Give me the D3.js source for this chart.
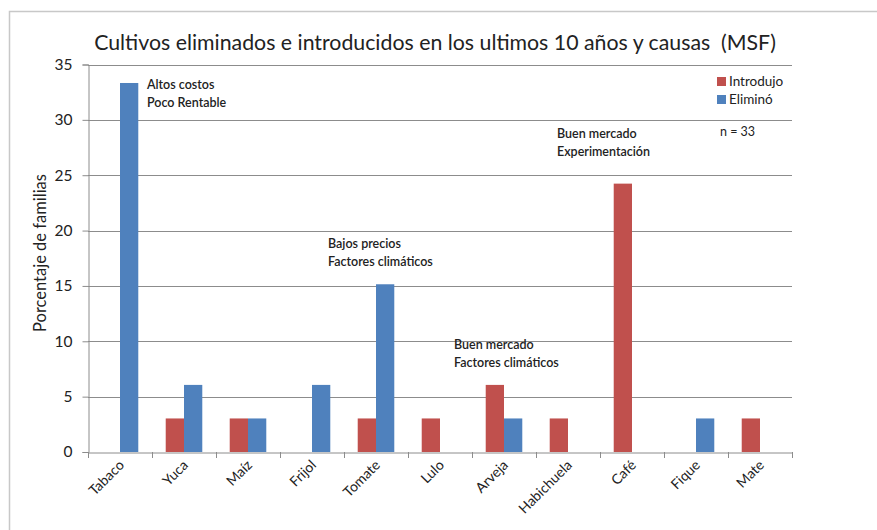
<!DOCTYPE html>
<html>
<head>
<meta charset="utf-8">
<script src="https://cdn.jsdelivr.net/npm/d3@7"></script>
<style>
  html, body { margin: 0; padding: 0; background: #fff; }
  svg { display: block; font-family: Lato, "Open Sans", sans-serif; }
  .pre { white-space: pre; }
</style>
</head>
<body>
<svg id="chart" width="877" height="530"></svg>
<script>
// Crops removed and introduced over the last 10 years (n = 33 families)
const categories = ["Tabaco", "Yuca", "Maíz", "Frijol", "Tomate", "Lulo", "Arveja", "Habichuela", "Café", "Fique", "Mate"];
const seriesNames = ["Introdujo", "Eliminó"];
const introdujo = [0, 3.03, 3.03, 0, 3.03, 3.03, 6.06, 3.03, 24.24, 0, 3.03];
const elimino   = [33.33, 6.06, 3.03, 6.06, 15.15, 0, 3.03, 0, 0, 3.03, 0];
const yTicks = [0, 5, 10, 15, 20, 25, 30, 35];
const colors = ["#C0504D", "#4F81BD"];
// reasons given, anchored to a category (dx in px from its centre) and a y value
const notes = [
  { cat: "Tabaco", dx: 27,  value: 32.8, lines: ["Altos costos", "Poco Rentable"] },
  { cat: "Tomate", dx: -48, value: 18.4, lines: ["Bajos precios", "Factores climáticos"] },
  { cat: "Arveja", dx: -50, value: 9.3,  lines: ["Buen mercado", "Factores climáticos"] },
  { cat: "Café",   dx: -75, value: 28.4, lines: ["Buen mercado", "Experimentación"] }
];

const svg = d3.select("#chart");
const plotL = 88, plotR = 792, plotT = 64.5, plotB = 452;

// outer frame
svg.append("rect").attr("x", 9.5).attr("y", 11.5).attr("width", 900).attr("height", 600)
  .attr("fill", "none").attr("stroke", "#c8c8c8").attr("stroke-width", 1.5);

const x = d3.scaleBand().domain(categories).range([plotL, plotR]).paddingInner(0).paddingOuter(0);
const y = d3.scaleLinear().domain([0, 35]).range([plotB, plotT]);
const barW = x.bandwidth() / 3.5;
const sub = d3.scaleBand().domain(seriesNames).range([x.bandwidth() / 2 - barW, x.bandwidth() / 2 + barW]);

// gridlines
svg.append("g").selectAll("line").data(yTicks.filter(d => d > 0)).join("line")
  .attr("x1", plotL).attr("x2", plotR)
  .attr("y1", d => Math.round(y(d)) + 0.5).attr("y2", d => Math.round(y(d)) + 0.5)
  .attr("stroke", "#8c8c8c").attr("stroke-width", 1);

// y axis
const yAxis = svg.append("g").attr("transform", `translate(${plotL + 0.5},0)`)
  .call(d3.axisLeft(y).tickValues(yTicks).tickSize(6).tickPadding(10));
yAxis.select(".domain").attr("stroke", "#8c8c8c");
yAxis.selectAll(".tick line").attr("stroke", "#8c8c8c");
yAxis.selectAll(".tick text").attr("font-size", 15.5).attr("fill", "#222")
  .attr("font-family", "Lato, sans-serif");

// bars
const data = categories.map((c, i) => ({ cat: c, vals: [introdujo[i], elimino[i]] }));
const groups = svg.append("g").selectAll("g").data(data).join("g")
  .attr("transform", d => `translate(${x(d.cat)},0)`);
groups.selectAll("rect").data(d => d.vals.map((v, k) => ({ k, v })).filter(e => e.v > 0)).join("rect")
  .attr("x", e => sub(seriesNames[e.k]))
  .attr("width", barW)
  .attr("y", e => y(e.v))
  .attr("height", e => y(0) - y(e.v))
  .attr("fill", e => colors[e.k]);

// x axis
const xAxis = svg.append("g").attr("transform", `translate(0,${plotB + 0.5})`)
  .call(d3.axisBottom(x).tickSize(0).tickPadding(0));
xAxis.select(".domain").attr("stroke", "#8c8c8c");
xAxis.selectAll(".tick text").remove();
const xTickPos = categories.map(c => x(c)).concat([plotR]);
svg.append("g").selectAll("line").data(xTickPos).join("line")
  .attr("x1", d => Math.round(d) + 0.5).attr("x2", d => Math.round(d) + 0.5)
  .attr("y1", plotB).attr("y2", plotB + 6).attr("stroke", "#8c8c8c");
svg.append("g").selectAll("text").data(categories).join("text")
  .attr("transform", d => `translate(${x(d) + x.bandwidth() / 2 + 5},${plotB + 14}) rotate(-45)`)
  .attr("text-anchor", "end").attr("font-size", 14).attr("fill", "#222")
  .text(d => d);

// y axis title
svg.append("text").attr("transform", "translate(46,253) rotate(-90)")
  .attr("text-anchor", "middle").attr("font-size", 16.5).attr("fill", "#222")
  .text("Porcentaje de familias");

// title
svg.append("text").attr("class", "pre").attr("x", 435).attr("y", 50).attr("text-anchor", "middle")
  .attr("font-size", 21.3).attr("fill", "#222")
  .text("Cultivos eliminados e introducidos en los ultimos 10 años y causas  (MSF)");

// annotations
notes.forEach(n => {
  const bx = x(n.cat) + x.bandwidth() / 2 + n.dx;
  const by = y(n.value);
  n.lines.forEach((t, i) => {
    svg.append("text").attr("x", bx).attr("y", by + i * 18)
      .attr("font-size", 12.5).attr("font-weight", 600).attr("fill", "#222").text(t);
  });
});

// legend
const lg = svg.append("g").attr("transform", "translate(717,77)");
seriesNames.forEach((s, i) => {
  lg.append("rect").attr("x", 0).attr("y", i * 18).attr("width", 9).attr("height", 9).attr("fill", colors[i]);
  lg.append("text").attr("x", 12).attr("y", i * 18 + 9).attr("font-size", 13.5).attr("fill", "#222").text(s);
});
svg.append("text").attr("x", 720).attr("y", 136).attr("font-size", 12.5).attr("fill", "#222").text("n = 33");
</script>
</body>
</html>
